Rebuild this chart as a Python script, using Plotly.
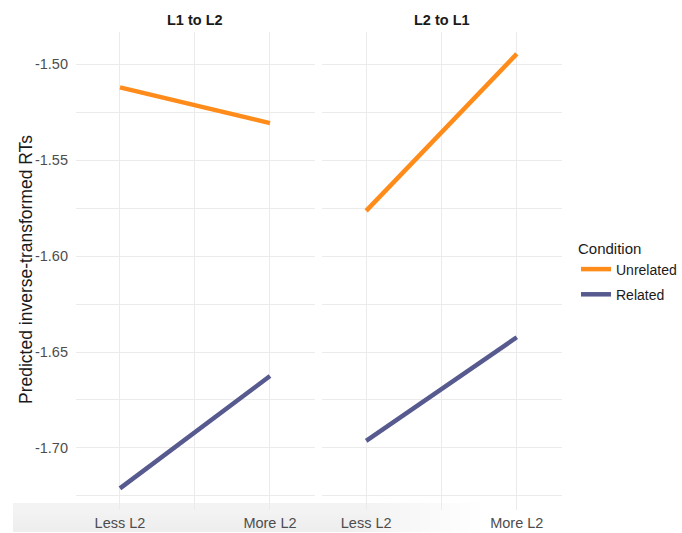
import plotly.graph_objects as go

# Predicted inverse-transformed RTs by L2 exposure, condition and direction
levels = ["Less L2", "More L2"]
level_pos = [1, 2]
panels = ["L1 to L2", "L2 to L1"]
conditions = ["Unrelated", "Related"]
colors = {"Unrelated": "#FF8C1A", "Related": "#565A8E"}

unrelated_l1_l2 = [-1.512, -1.5306]
related_l1_l2 = [-1.7211, -1.6625]
unrelated_l2_l1 = [-1.5764, -1.4945]
related_l2_l1 = [-1.6964, -1.6423]

series = {
    ("L1 to L2", "Unrelated"): unrelated_l1_l2,
    ("L1 to L2", "Related"): related_l1_l2,
    ("L2 to L1", "Unrelated"): unrelated_l2_l1,
    ("L2 to L1", "Related"): related_l2_l1,
}

y_ticks = [-1.50, -1.55, -1.60, -1.65, -1.70]

W, H = 682, 533
FONT = "Liberation Sans, Arial, sans-serif"
TICK_FONT = dict(family=FONT, size=14.5, color="#4D4D4D")

fig = go.Figure()
for i, panel in enumerate(panels):
    xa = "x" if i == 0 else "x2"
    for cond in conditions:
        fig.add_trace(go.Scatter(
            x=level_pos, y=series[(panel, cond)],
            mode="lines", name=cond,
            line=dict(color=colors[cond], width=4.5),
            xaxis=xa, yaxis="y",
            legendgroup=cond, showlegend=(i == 0),
            hoverinfo="skip",
        ))

grid = "#EBEBEB"
xaxis_common = dict(
    range=[0.707, 2.3], tickvals=level_pos, ticktext=levels,
    showgrid=True, gridcolor=grid, gridwidth=1.2,
    minor=dict(tickvals=[1.5], showgrid=True, gridcolor=grid, gridwidth=0.8),
    zeroline=False, showline=False, ticks="",
    ticklabelstandoff=2,
    tickfont=TICK_FONT,
    anchor="y", fixedrange=True,
)

fig.update_layout(
    width=W, height=H,
    margin=dict(l=0, r=0, t=0, b=0),
    paper_bgcolor="white", plot_bgcolor="white",
    xaxis=dict(domain=[76 / W, 315 / W], **xaxis_common),
    xaxis2=dict(domain=[322 / W, 562 / W], **xaxis_common),
    yaxis=dict(
        domain=[1 - 510 / H, 1 - 32 / H],
        range=[-1.7324, -1.4831],
        tickvals=y_ticks, ticktext=[f"{v:.2f}" for v in y_ticks],
        showgrid=True, gridcolor=grid, gridwidth=1.2,
        minor=dict(tickvals=[-1.725, -1.675, -1.625, -1.575, -1.525],
                   showgrid=True, gridcolor=grid, gridwidth=0.8),
        zeroline=False, showline=False, ticks="",
        ticklabelstandoff=7,
        tickfont=TICK_FONT,
        anchor="x", fixedrange=True,
    ),
    showlegend=True,
    legend=dict(
        title=dict(text="Condition", font=dict(family=FONT, size=15, color="#1A1A1A")),
        font=dict(family=FONT, size=14, color="#1A1A1A"),
        x=576 / W, xanchor="left", y=1 - 234 / H, yanchor="top",
        itemwidth=30, tracegroupgap=4, bgcolor="rgba(0,0,0,0)",
    ),
)

# facet strip titles
for i, panel in enumerate(panels):
    dom = fig.layout.xaxis.domain if i == 0 else fig.layout.xaxis2.domain
    fig.add_annotation(
        text=f"<b>{panel}</b>", x=(dom[0] + dom[1]) / 2, y=1 - 20 / H,
        xref="paper", yref="paper", showarrow=False,
        font=dict(family=FONT, size=14.5, color="#1A1A1A"),
        xanchor="center", yanchor="middle",
    )

# y axis title
fig.add_annotation(
    text="Predicted inverse-transformed RTs", textangle=-90,
    x=26 / W, y=1 - 270 / H, xref="paper", yref="paper", showarrow=False,
    font=dict(family=FONT, size=17.5, color="#1A1A1A"),
    xanchor="center", yanchor="middle",
)

# faint grey band along the bottom edge, fading out to the right
band = "rgba(128,128,128,0.009)"
for k in range(12):
    fig.add_shape(
        type="rect", xref="paper", yref="paper", layer="below",
        x0=13 / W, x1=(480 - k * 10) / W, y0=1 / H, y1=30 / H,
        fillcolor=band, line=dict(width=0),
    )
for k in range(5):
    fig.add_shape(
        type="rect", xref="paper", yref="paper", layer="below",
        x0=13 / W, x1=(390 - k * 12) / W, y0=1 / H, y1=(20 - k * 3.5) / H,
        fillcolor=band, line=dict(width=0),
    )

fig.write_html("out.html")
